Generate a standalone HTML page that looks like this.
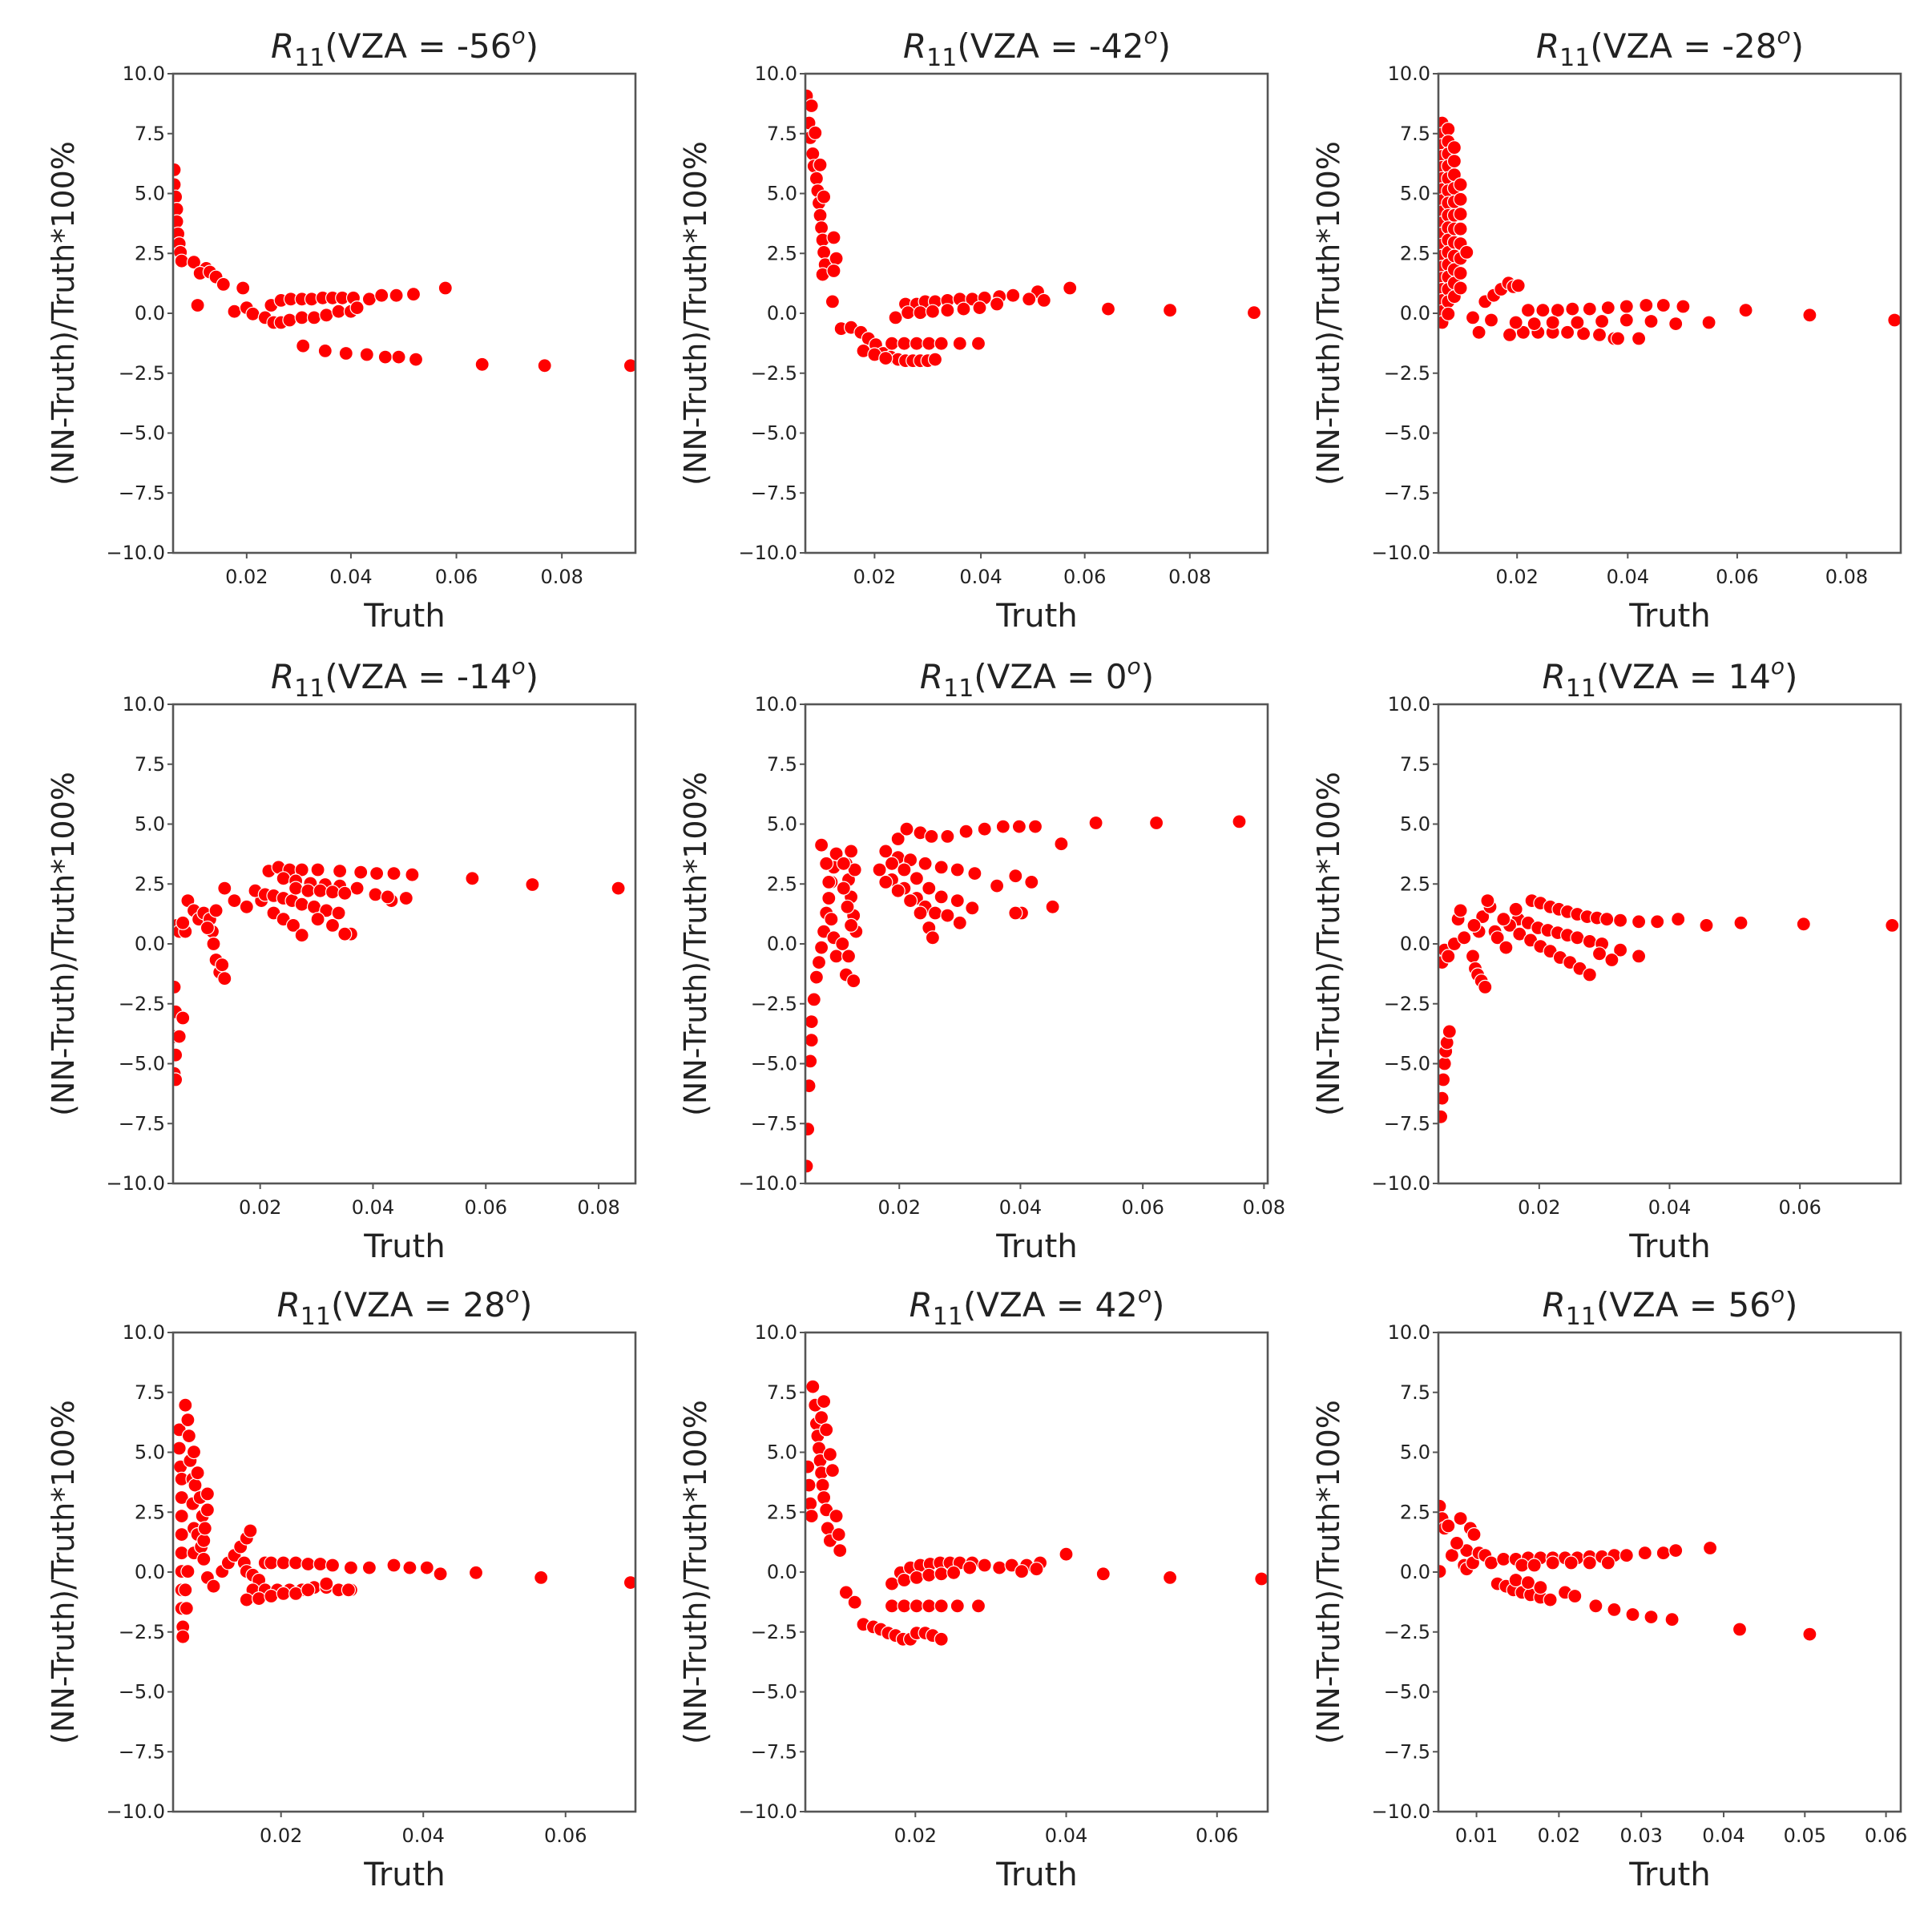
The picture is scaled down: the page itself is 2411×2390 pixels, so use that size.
<!DOCTYPE html>
<html><head><meta charset="utf-8"><style>
html,body{margin:0;padding:0;background:#fff}
svg{display:block}
text{font-family:"DejaVu Sans","Liberation Sans",sans-serif;fill:#222}
</style></head><body>
<svg id="s" width="2411" height="2390" viewBox="0 0 2411 2390" xmlns="http://www.w3.org/2000/svg">
<rect width="2411" height="2390" fill="#fff"/>
<g id="dots"></g>
<g id="axes"></g>
<g font-size="42" text-anchor="middle">
<text x="505" y="72"><tspan font-style="italic">R</tspan><tspan font-size="30" dy="10">11</tspan><tspan dy="-10">(VZA = -56</tspan><tspan font-size="28" font-style="italic" dy="-18">o</tspan><tspan dy="18">)</tspan></text>
<text x="1294" y="72"><tspan font-style="italic">R</tspan><tspan font-size="30" dy="10">11</tspan><tspan dy="-10">(VZA = -42</tspan><tspan font-size="28" font-style="italic" dy="-18">o</tspan><tspan dy="18">)</tspan></text>
<text x="2084" y="72"><tspan font-style="italic">R</tspan><tspan font-size="30" dy="10">11</tspan><tspan dy="-10">(VZA = -28</tspan><tspan font-size="28" font-style="italic" dy="-18">o</tspan><tspan dy="18">)</tspan></text>
<text x="505" y="859"><tspan font-style="italic">R</tspan><tspan font-size="30" dy="10">11</tspan><tspan dy="-10">(VZA = -14</tspan><tspan font-size="28" font-style="italic" dy="-18">o</tspan><tspan dy="18">)</tspan></text>
<text x="1294" y="859"><tspan font-style="italic">R</tspan><tspan font-size="30" dy="10">11</tspan><tspan dy="-10">(VZA = 0</tspan><tspan font-size="28" font-style="italic" dy="-18">o</tspan><tspan dy="18">)</tspan></text>
<text x="2084" y="859"><tspan font-style="italic">R</tspan><tspan font-size="30" dy="10">11</tspan><tspan dy="-10">(VZA = 14</tspan><tspan font-size="28" font-style="italic" dy="-18">o</tspan><tspan dy="18">)</tspan></text>
<text x="505" y="1643"><tspan font-style="italic">R</tspan><tspan font-size="30" dy="10">11</tspan><tspan dy="-10">(VZA = 28</tspan><tspan font-size="28" font-style="italic" dy="-18">o</tspan><tspan dy="18">)</tspan></text>
<text x="1294" y="1643"><tspan font-style="italic">R</tspan><tspan font-size="30" dy="10">11</tspan><tspan dy="-10">(VZA = 42</tspan><tspan font-size="28" font-style="italic" dy="-18">o</tspan><tspan dy="18">)</tspan></text>
<text x="2084" y="1643"><tspan font-style="italic">R</tspan><tspan font-size="30" dy="10">11</tspan><tspan dy="-10">(VZA = 56</tspan><tspan font-size="28" font-style="italic" dy="-18">o</tspan><tspan dy="18">)</tspan></text>
</g>
<g font-size="40" text-anchor="middle">
<text x="505" y="782">Truth</text><text x="1294" y="782">Truth</text><text x="2084" y="782">Truth</text>
<text x="505" y="1569">Truth</text><text x="1294" y="1569">Truth</text><text x="2084" y="1569">Truth</text>
<text x="505" y="2353">Truth</text><text x="1294" y="2353">Truth</text><text x="2084" y="2353">Truth</text>
</g>
<g font-size="38" text-anchor="middle">
<text transform="translate(92,391) rotate(-90)">(NN-Truth)/Truth*100%</text>
<text transform="translate(881,391) rotate(-90)">(NN-Truth)/Truth*100%</text>
<text transform="translate(1671,391) rotate(-90)">(NN-Truth)/Truth*100%</text>
<text transform="translate(92,1178) rotate(-90)">(NN-Truth)/Truth*100%</text>
<text transform="translate(881,1178) rotate(-90)">(NN-Truth)/Truth*100%</text>
<text transform="translate(1671,1178) rotate(-90)">(NN-Truth)/Truth*100%</text>
<text transform="translate(92,1962) rotate(-90)">(NN-Truth)/Truth*100%</text>
<text transform="translate(881,1962) rotate(-90)">(NN-Truth)/Truth*100%</text>
<text transform="translate(1671,1962) rotate(-90)">(NN-Truth)/Truth*100%</text>
</g>
<g id="ticklabels" font-size="24"></g>
</svg>
<script>
var NS="http://www.w3.org/2000/svg";
var cols=[[216,793,140,517],[1005,1582,655,1029],[1795,2372,1167,1543]];
var rows=[[92,690,60,449],[879,1477,571,959],[1663,2261,1081,1470]];
var xt=[
[["0.02",200],["0.04",285],["0.06",371],["0.08",457]],
[["0.02",711],["0.04",797],["0.06",881],["0.08",966]],
[["0.02",1231],["0.04",1321],["0.06",1410],["0.08",1499]],
[["0.02",211],["0.04",303],["0.06",395],["0.08",487]],
[["0.02",731],["0.04",829],["0.06",928],["0.08",1026]],
[["0.02",1249],["0.04",1355],["0.06",1461]],
[["0.02",228],["0.04",344],["0.06",460]],
[["0.02",744],["0.04",866],["0.06",988]],
[["0.01",1198],["0.02",1265],["0.03",1332],["0.04",1399],["0.05",1465],["0.06",1531]]];
var P=[];
P[0]=[[141,138],[141,150],[142,160],[143,170],[143,180],[144,190],[145,198],[146,205],[147,212],[157,213],[160,248],[167,218],[162,222],[170,221],[175,225],[181,231],[190,253],[197,234],[200,250],[205,255],[220,248],[228,244],[236,243],[245,243],[253,243],[262,242],[270,242],[278,242],[287,242],[300,243],[310,240],[322,240],[336,239],[362,234],[215,258],[222,262],[228,262],[235,260],[245,258],[255,258],[265,256],[275,253],[285,253],[290,250],[246,281],[264,285],[281,287],[298,288],[313,290],[324,290],[338,292],[392,296],[443,297],[513,297]];
P[1]=[[656,78],[660,86],[658,100],[659,112],[661,125],[662,135],[664,145],[665,155],[666,165],[667,175],[668,185],[669,195],[670,205],[671,215],[669,223],[663,108],[667,134],[670,160],[678,193],[680,210],[678,220],[677,245],[684,267],[692,266],[700,270],[706,275],[712,280],[718,287],[724,290],[730,292],[736,293],[742,293],[748,293],[754,293],[760,292],[702,285],[711,288],[720,291],[725,279],[735,279],[745,279],[755,279],[765,279],[780,279],[795,279],[728,258],[736,247],[745,247],[752,245],[760,245],[770,244],[780,243],[790,243],[800,242],[812,241],[823,240],[843,237],[869,234],[900,251],[950,252],[1018,254],[738,254],[748,254],[758,253],[770,252],[783,251],[796,250],[810,247],[836,243],[848,244]];
var p2=[];
for(var y=100;y<=270;y+=9)p2.push([1170,y]);
for(var y=105;y<=260;y+=10)p2.push([1175,y]);
for(var y=120;y<=245;y+=11)p2.push([1180,y]);
for(var y=150;y<=240;y+=12)p2.push([1185,y]);
P[2]=p2.concat([[1190,205],[1195,258],[1200,270],[1210,260],[1205,245],[1212,240],[1218,235],[1224,230],[1228,233],[1232,232],[1240,252],[1252,252],[1264,252],[1276,251],[1290,251],[1305,250],[1320,249],[1336,248],[1350,248],[1366,249],[1225,272],[1236,270],[1248,270],[1260,270],[1272,270],[1285,271],[1298,272],[1310,275],[1230,262],[1245,263],[1260,262],[1280,262],[1300,261],[1320,260],[1340,261],[1360,263],[1387,262],[1417,252],[1469,256],[1538,260],[1313,275],[1330,275]]);
P[3]=[[141,800],[142,820],[141,840],[142,855],[141,870],[142,875],[145,840],[148,825],[143,750],[145,755],[150,755],[148,748],[152,730],[157,738],[161,745],[165,740],[170,745],[172,755],[173,765],[175,778],[178,788],[182,793],[175,738],[168,752],[180,782],[182,720],[190,730],[200,735],[212,730],[222,740],[230,745],[238,750],[245,758],[207,722],[215,725],[222,726],[230,728],[237,730],[245,733],[255,735],[265,738],[275,740],[285,757],[218,706],[226,703],[235,705],[245,705],[258,705],[276,706],[293,707],[306,708],[320,708],[335,709],[384,712],[433,717],[503,720],[230,712],[240,714],[252,716],[264,717],[276,718],[290,720],[305,725],[318,730],[240,720],[250,722],[260,722],[270,723],[280,724],[315,727],[330,728],[258,745],[270,750],[280,757]];
P[4]=[[656,945],[657,915],[658,880],[659,860],[660,843],[660,828],[662,810],[664,792],[666,780],[668,768],[670,755],[672,740],[674,728],[676,715],[678,703],[680,692],[668,685],[672,700],[674,715],[676,745],[678,760],[680,775],[685,765],[688,790],[690,775],[694,795],[688,700],[690,713],[692,727],[694,742],[696,755],[686,720],[689,735],[692,750],[695,705],[692,690],[686,700],[720,690],[730,680],[737,672],[748,675],[757,678],[770,678],[785,674],[800,672],[815,670],[828,670],[841,670],[862,684],[890,667],[939,667],[1006,666],[730,695],[740,697],[752,700],[765,703],[778,705],[792,708],[810,718],[825,710],[838,715],[855,735],[830,740],[725,700],[735,705],[745,712],[755,720],[765,727],[778,730],[790,736],[715,705],[725,713],[735,720],[745,728],[752,735],[760,740],[720,715],[730,722],[740,730],[748,740],[755,752],[758,760],[770,742],[780,748],[825,740]];
P[5]=[[1169,905],[1170,890],[1171,875],[1172,862],[1173,852],[1174,845],[1176,836],[1170,780],[1172,770],[1175,775],[1180,765],[1183,745],[1185,738],[1188,760],[1195,775],[1197,785],[1199,790],[1202,795],[1205,800],[1203,743],[1209,735],[1200,755],[1196,750],[1243,730],[1250,732],[1258,735],[1265,737],[1272,739],[1280,741],[1288,743],[1296,744],[1304,745],[1315,746],[1330,747],[1345,747],[1362,745],[1385,750],[1413,748],[1464,749],[1536,750],[1232,745],[1240,748],[1248,752],[1256,754],[1264,756],[1272,758],[1280,760],[1290,763],[1300,765],[1315,770],[1330,775],[1225,750],[1233,757],[1242,762],[1250,767],[1258,771],[1266,776],[1274,780],[1282,785],[1290,790],[1298,773],[1308,778],[1213,755],[1220,745],[1230,737],[1207,730],[1215,760],[1222,768]];
P[6]=[[145,1160],[145,1175],[146,1190],[147,1200],[147,1215],[147,1230],[147,1245],[147,1260],[147,1275],[147,1290],[147,1305],[148,1320],[148,1328],[150,1140],[152,1152],[153,1165],[154,1185],[156,1200],[156,1220],[157,1240],[157,1260],[152,1275],[150,1290],[151,1305],[157,1178],[158,1205],[160,1195],[162,1215],[164,1230],[160,1245],[163,1255],[165,1265],[168,1280],[165,1250],[168,1225],[168,1212],[166,1240],[173,1287],[180,1275],[185,1268],[190,1262],[195,1255],[200,1248],[203,1242],[198,1268],[200,1275],[205,1278],[210,1282],[215,1268],[220,1268],[230,1268],[240,1268],[250,1269],[260,1269],[270,1270],[285,1272],[300,1272],[320,1270],[333,1272],[347,1272],[358,1277],[387,1276],[440,1280],[513,1284],[205,1290],[215,1290],[225,1290],[235,1290],[245,1290],[255,1288],[265,1288],[275,1290],[285,1290],[200,1298],[210,1297],[220,1295],[230,1293],[240,1293],[250,1290],[265,1285],[283,1290]];
P[7]=[[657,1190],[658,1205],[659,1220],[660,1230],[661,1125],[663,1140],[664,1155],[665,1165],[666,1175],[667,1185],[668,1195],[669,1205],[670,1215],[672,1225],[673,1240],[675,1250],[670,1137],[668,1150],[672,1160],[675,1180],[677,1193],[680,1230],[682,1245],[683,1258],[688,1292],[695,1300],[702,1318],[710,1320],[716,1322],[722,1325],[728,1327],[734,1330],[740,1330],[745,1325],[752,1325],[758,1327],[765,1330],[725,1303],[735,1303],[745,1303],[755,1303],[765,1303],[778,1303],[795,1303],[725,1285],[732,1276],[740,1272],[748,1270],[756,1269],[764,1268],[772,1268],[780,1268],[790,1268],[800,1270],[812,1272],[822,1270],[834,1270],[845,1268],[866,1261],[896,1277],[950,1280],[1024,1281],[735,1282],[745,1280],[755,1278],[765,1277],[775,1276],[788,1272],[830,1275],[842,1273]];
P[8]=[[1168,1222],[1170,1232],[1172,1240],[1168,1275],[1175,1238],[1185,1232],[1193,1240],[1196,1245],[1190,1258],[1188,1270],[1190,1273],[1178,1262],[1182,1252],[1195,1268],[1200,1260],[1205,1262],[1210,1268],[1220,1265],[1230,1265],[1240,1264],[1250,1264],[1260,1264],[1270,1264],[1280,1264],[1290,1263],[1300,1263],[1310,1262],[1320,1262],[1335,1260],[1350,1260],[1360,1258],[1388,1256],[1235,1270],[1245,1270],[1260,1268],[1275,1268],[1290,1268],[1305,1268],[1215,1285],[1222,1287],[1228,1290],[1235,1292],[1242,1294],[1250,1296],[1258,1298],[1270,1292],[1278,1295],[1295,1303],[1310,1306],[1325,1310],[1340,1312],[1357,1314],[1412,1322],[1469,1326],[1230,1282],[1240,1284],[1250,1288]];
var dots=document.getElementById("dots"),ax=document.getElementById("axes"),tl=document.getElementById("ticklabels");
function el(n,a,p){var e=document.createElementNS(NS,n);for(var k in a)e.setAttribute(k,a[k]);p.appendChild(e);return e;}
var ylab=["10.0","7.5","5.0","2.5","0.0","\u22122.5","\u22125.0","\u22127.5","\u221210.0"];
for(var r=0;r<3;r++)for(var c=0;c<3;c++){
 var i=r*3+c,C=cols[c],R=rows[r];
 var fx=function(px){return C[0]+(px-C[2])/(C[3]-C[2])*(C[1]-C[0]);};
 var fy=function(py){return R[0]+(py-R[2])/(R[3]-R[2])*(R[1]-R[0]);};
 var cp=el("clipPath",{id:"c"+i},dots);el("rect",{x:C[0],y:R[0],width:C[1]-C[0],height:R[1]-R[0]},cp);
 var g=el("g",{"clip-path":"url(#c"+i+")"},dots);
 P[i].forEach(function(p){el("circle",{cx:fx(p[0]).toFixed(1),cy:fy(p[1]).toFixed(1),r:8.5,fill:"#ff0000",stroke:"#fff","stroke-width":1.2},g);});
 el("rect",{x:C[0],y:R[0],width:C[1]-C[0],height:R[1]-R[0],fill:"none",stroke:"#555","stroke-width":2.6},ax);
 for(var k=0;k<9;k++){var y=R[0]+k*(R[1]-R[0])/8;
  el("line",{x1:C[0]-7,x2:C[0],y1:y,y2:y,stroke:"#555","stroke-width":2},ax);
  var t=el("text",{x:C[0]-10,y:y+8,"text-anchor":"end"},tl);t.textContent=ylab[k];}
 xt[i].forEach(function(q){var x=fx(q[1]);
  el("line",{x1:x,x2:x,y1:R[1],y2:R[1]+7,stroke:"#555","stroke-width":2},ax);
  var t=el("text",{x:x,y:R[1]+38,"text-anchor":"middle"},tl);t.textContent=q[0];});
}
</script>
</body></html>
